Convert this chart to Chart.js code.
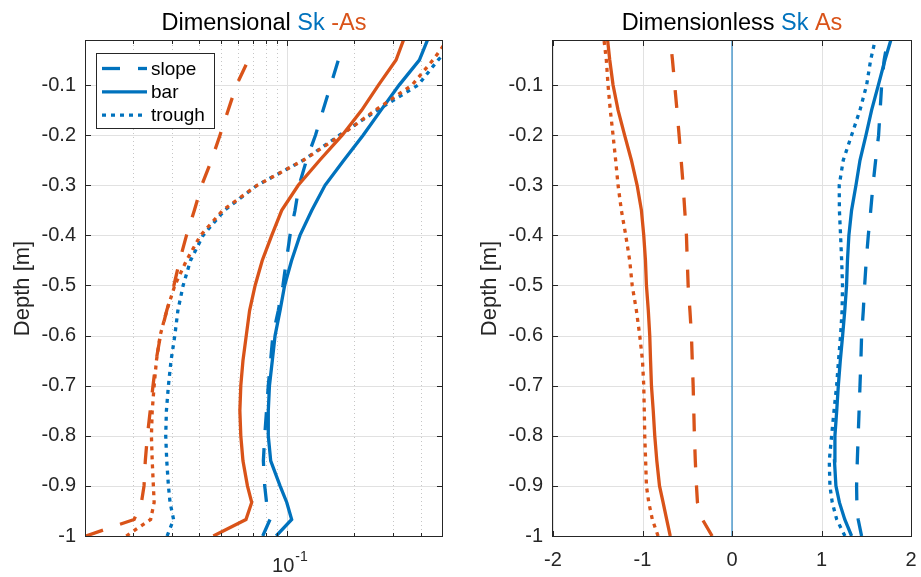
<!DOCTYPE html>
<html>
<head>
<meta charset="utf-8">
<title>Dimensional / Dimensionless Sk and As profiles</title>
<script src="https://cdn.jsdelivr.net/npm/chart.js@4.4.0/dist/chart.umd.min.js"></script>
<style>
  html, body { margin: 0; padding: 0; background: #fff; }
  #wrap { position: relative; width: 921px; height: 577px; }
  .panel { position: absolute; top: 0; }
  #left { left: 0; }
  #right { left: 460px; }
</style>
</head>
<body>
<div id="wrap">
  <div class="panel" id="left"><canvas id="chart-dim" width="460" height="577"></canvas></div>
  <div class="panel" id="right"><canvas id="chart-nondim" width="461" height="577"></canvas></div>
</div>
<script>
// depth levels (m), bottom to top
const depth = [-1, -0.967, -0.933, -0.9, -0.85, -0.8, -0.75, -0.7, -0.65, -0.6, -0.55, -0.5,
  -0.45, -0.4, -0.35, -0.3, -0.25, -0.2, -0.15, -0.1, -0.05, -0.01];
const depthSlope = [-1, -0.967, -0.933, -0.9, -0.85, -0.8, -0.75, -0.7, -0.65, -0.6, -0.55, -0.5,
  -0.45, -0.4, -0.35, -0.3, -0.25, -0.2, -0.15, -0.1, -0.05, -0.03];

// left panel: dimensional Sk and -As (log x)
const skSlopeDim  = [0.0774, 0.0835, 0.0805, 0.079, 0.0779, 0.079, 0.0805, 0.082, 0.084, 0.086, 0.091, 0.0955,
  0.099, 0.1028, 0.1083, 0.113, 0.122, 0.134, 0.145, 0.157, 0.17, 0.176];
const skBarDim    = [0.089, 0.1046, 0.0994, 0.0927, 0.0841, 0.082, 0.082, 0.083, 0.0855, 0.088, 0.0927, 0.0972,
  0.1045, 0.114, 0.129, 0.148, 0.18, 0.22, 0.265, 0.32, 0.395, 0.43];
const skTroughDim = [0.0286, 0.0306, 0.0295, 0.029, 0.0285, 0.0282, 0.0284, 0.029, 0.0298, 0.031, 0.032, 0.0338,
  0.0365, 0.0416, 0.052, 0.073, 0.118, 0.172, 0.255, 0.39, 0.48, 0.58];
const asSlopeDim  = [0.0123, 0.0203, 0.0219, 0.0225, 0.0228, 0.0233, 0.024, 0.0247, 0.0255, 0.0267, 0.0285, 0.0307,
  0.0326, 0.035, 0.038, 0.041, 0.0454, 0.0496, 0.054, 0.0589, 0.0666, 0.069];
const asBarDim    = [0.0463, 0.065, 0.069, 0.066, 0.063, 0.0616, 0.061, 0.0616, 0.063, 0.0652, 0.0675, 0.0715,
  0.077, 0.085, 0.0943, 0.112, 0.14, 0.177, 0.217, 0.258, 0.31, 0.335];
const asTroughDim = [0.0187, 0.0241, 0.025, 0.0248, 0.0245, 0.0243, 0.0245, 0.025, 0.0256, 0.0266, 0.0285, 0.031,
  0.035, 0.0405, 0.051, 0.073, 0.118, 0.175, 0.25, 0.366, 0.455, 0.53];

// right panel: dimensionless Sk and As
const skSlope  = [1.448, 1.41, 1.395, 1.392, 1.40, 1.41, 1.42, 1.43, 1.44, 1.448, 1.467, 1.482,
  1.50, 1.523, 1.55, 1.575, 1.605, 1.638, 1.655, 1.672, 1.70, 1.72];
const skBar    = [1.336, 1.26, 1.20, 1.161, 1.145, 1.15, 1.17, 1.188, 1.21, 1.236, 1.26, 1.28,
  1.29, 1.306, 1.336, 1.385, 1.43, 1.497, 1.56, 1.635, 1.709, 1.775];
const skTrough = [1.262, 1.17, 1.12, 1.094, 1.087, 1.113, 1.14, 1.169, 1.19, 1.213, 1.23, 1.235,
  1.225, 1.213, 1.2, 1.198, 1.243, 1.336, 1.43, 1.504, 1.549, 1.6];
const asSlope  = [-0.222, -0.33, -0.386, -0.397, -0.41, -0.42, -0.427, -0.434, -0.444, -0.453, -0.47, -0.49,
  -0.50, -0.509, -0.528, -0.546, -0.568, -0.591, -0.615, -0.64, -0.665, -0.677];
const asBar    = [-0.69, -0.73, -0.77, -0.81, -0.84, -0.863, -0.88, -0.9, -0.91, -0.919, -0.935, -0.956,
  -0.967, -0.986, -1.012, -1.06, -1.124, -1.2, -1.273, -1.329, -1.366, -1.39];
const asTrough = [-0.826, -0.89, -0.93, -0.956, -0.965, -0.975, -0.98, -0.986, -1.0, -1.031, -1.068, -1.115,
  -1.143, -1.187, -1.236, -1.273, -1.30, -1.329, -1.36, -1.385, -1.404, -1.43];
const zeroLineX = [0, 0];
const zeroLineY = [-1, 0];

// axes
const yTicks = [-1, -0.9, -0.8, -0.7, -0.6, -0.5, -0.4, -0.3, -0.2, -0.1];
const xMajorDim = [0.1];
const xMinorDim = [0.02, 0.03, 0.04, 0.05, 0.06, 0.07, 0.08, 0.09, 0.2, 0.3, 0.4, 0.5];
const xTicksNondim = [-2, -1, 0, 1, 2];
const Y_MIN = -1, Y_MAX = -0.012;

const FONT = "'Liberation Sans', Arial, Helvetica, sans-serif";
const BLUE = '#0072BD', ORANGE = '#D95319', AXIS = '#262626';
const DASH = [18, 18], DOT = [4, 5];

function series(xs, ys, color, dash, label, order, inLegend) {
  return {
    label: label,
    data: xs.map((v, i) => ({ x: v, y: ys[i] })),
    showLine: true,
    borderColor: color,
    backgroundColor: color,
    borderWidth: 3.3,
    borderDash: dash,
    borderCapStyle: 'butt',
    pointRadius: 0,
    tension: 0,
    clip: 0,
    order: order,
    inLegend: inLegend
  };
}

function vline(ctx, px, y0, y1) {
  const x = Math.round(px) + 0.5;
  ctx.beginPath(); ctx.moveTo(x, y0); ctx.lineTo(x, y1); ctx.stroke();
}
function hline(ctx, py, x0, x1) {
  const y = Math.round(py) + 0.5;
  ctx.beginPath(); ctx.moveTo(x0, y); ctx.lineTo(x1, y); ctx.stroke();
}

// MATLAB-look axes: grid, boxed frame with inward ticks, coloured title, legend
function matlabAxes(cfg) {
  return {
    id: 'matlabAxes',
    beforeDatasetsDraw(chart) {
      const { ctx, chartArea: a, scales: { x, y } } = chart;
      ctx.save();
      ctx.lineWidth = 1;
      ctx.strokeStyle = '#c6c6c6';
      ctx.setLineDash([1, 3]);
      cfg.xMinor.forEach(v => vline(ctx, x.getPixelForValue(v), a.top, a.bottom));
      ctx.setLineDash([]);
      ctx.strokeStyle = '#e1e1e1';
      cfg.xMajor.forEach(v => vline(ctx, x.getPixelForValue(v), a.top, a.bottom));
      yTicks.forEach(v => hline(ctx, y.getPixelForValue(v), a.left, a.right));
      ctx.restore();
    },
    afterDatasetsDraw(chart) {
      const { ctx, chartArea: a, scales: { x, y } } = chart;
      ctx.save();
      ctx.strokeStyle = AXIS;
      ctx.lineWidth = 1;
      yTicks.forEach(v => {
        hline(ctx, y.getPixelForValue(v), a.left, a.left + 5);
        hline(ctx, y.getPixelForValue(v), a.right - 5, a.right);
      });
      cfg.xMajor.forEach(v => {
        vline(ctx, x.getPixelForValue(v), a.bottom - 5, a.bottom);
        vline(ctx, x.getPixelForValue(v), a.top, a.top + 5);
      });
      cfg.xMinor.forEach(v => {
        vline(ctx, x.getPixelForValue(v), a.bottom - 3, a.bottom);
        vline(ctx, x.getPixelForValue(v), a.top, a.top + 3);
      });
      ctx.strokeRect(a.left - 0.5, a.top - 0.5, a.right - a.left + 1, a.bottom - a.top + 1);

      // exponent tick labels (log axis)
      ctx.fillStyle = AXIS;
      ctx.textBaseline = 'alphabetic';
      (cfg.supLabels || []).forEach(t => {
        ctx.font = '20px ' + FONT;
        const wb = ctx.measureText(t.base).width;
        ctx.font = '14px ' + FONT;
        const we = ctx.measureText(t.exp).width;
        const x0 = x.getPixelForValue(t.value) - (wb + we) / 2 + 2;
        ctx.font = '20px ' + FONT;
        ctx.textAlign = 'left';
        ctx.fillText(t.base, x0, a.bottom + 36);
        ctx.font = '14px ' + FONT;
        ctx.fillText(t.exp, x0 + wb + 1, a.bottom + 25);
      });

      // title in coloured pieces
      ctx.font = '23.5px ' + FONT;
      const total = cfg.title.reduce((s, p) => s + ctx.measureText(p[0]).width, 0);
      let tx = (a.left + a.right) / 2 - total / 2;
      ctx.textAlign = 'left';
      cfg.title.forEach(p => {
        ctx.fillStyle = p[1];
        ctx.fillText(p[0], tx, 29.5);
        tx += ctx.measureText(p[0]).width;
      });

      // legend
      const L = cfg.legend;
      const items = chart.data.datasets.filter(d => d.inLegend);
      ctx.fillStyle = '#fff';
      ctx.fillRect(L.x, L.y, L.w, L.h);
      ctx.strokeStyle = AXIS;
      ctx.lineWidth = 1;
      ctx.setLineDash([]);
      ctx.strokeRect(L.x + 0.5, L.y + 0.5, L.w, L.h);
      ctx.font = '19px ' + FONT;
      ctx.textBaseline = 'middle';
      items.forEach((d, i) => {
        const ry = L.y + 15.5 + i * 23.3;
        ctx.save();
        ctx.strokeStyle = d.borderColor;
        ctx.lineWidth = d.borderWidth;
        ctx.lineCap = 'butt';
        ctx.setLineDash(d.borderDash);
        ctx.beginPath();
        ctx.moveTo(L.x + 6, ry);
        ctx.lineTo(L.x + 51, ry);
        ctx.stroke();
        ctx.restore();
        ctx.fillStyle = '#000';
        ctx.fillText(d.label, L.x + 55, ry + 1);
      });
      ctx.restore();
    }
  };
}

function yAxis(widthPx) {
  return {
    type: 'linear', min: Y_MIN, max: Y_MAX,
    afterBuildTicks: s => { s.ticks = yTicks.map(v => ({ value: v })); },
    afterFit: s => { s.width = widthPx; s.paddingTop = 0; s.paddingBottom = 0; },
    grid: { display: false, drawTicks: false }, border: { display: false },
    ticks: { font: { family: FONT, size: 20 }, color: AXIS, padding: 10, callback: v => String(v) },
    title: { display: true, text: 'Depth [m]', color: AXIS, font: { family: FONT, size: 22 }, padding: { top: 4, bottom: 0 } }
  };
}

// keep the plot box where the frame is, even if edge labels overhang it
function xFit(s) {
  s.height = 41;
  s.paddingLeft = 0;
  s.paddingRight = 0;
}

const common = {
  responsive: false,
  animation: false,
  events: [],
  plugins: { legend: { display: false }, tooltip: { enabled: false } }
};

new Chart(document.getElementById('chart-dim'), {
  type: 'scatter',
  data: {
    datasets: [
      series(skSlopeDim, depthSlope, BLUE, DASH, 'slope', 2, true),
      series(skBarDim, depth, BLUE, [], 'bar', 2, true),
      series(skTroughDim, depth, BLUE, DOT, 'trough', 2, true),
      series(asSlopeDim, depthSlope, ORANGE, DASH, 'slope', 1, false),
      series(asBarDim, depth, ORANGE, [], 'bar', 1, false),
      series(asTroughDim, depth, ORANGE, DOT, 'trough', 1, false)
    ]
  },
  options: Object.assign({}, common, {
    layout: { padding: { left: 6, right: 18, top: 41, bottom: 0 } },
    scales: {
      x: {
        type: 'logarithmic', min: 0.0123, max: 0.5,
        afterFit: xFit,
        grid: { display: false, drawTicks: false }, border: { display: false },
        ticks: { display: false }
      },
      y: yAxis(80)
    }
  }),
  plugins: [matlabAxes({
    xMajor: xMajorDim, xMinor: xMinorDim,
    supLabels: [{ value: 0.1, base: '10', exp: '-1' }],
    title: [['Dimensional ', '#000'], ['Sk', BLUE], [' -As', ORANGE]],
    legend: { x: 96, y: 53, w: 118, h: 75 }
  })]
});

new Chart(document.getElementById('chart-nondim'), {
  type: 'scatter',
  data: {
    datasets: [
      series(skSlope, depthSlope, BLUE, DASH, 'slope', 2, true),
      series(skBar, depth, BLUE, [], 'bar', 2, true),
      series(skTrough, depth, BLUE, DOT, 'trough', 2, true),
      series(asSlope, depthSlope, ORANGE, DASH, 'slope', 1, false),
      series(asBar, depth, ORANGE, [], 'bar', 1, false),
      series(asTrough, depth, ORANGE, DOT, 'trough', 1, false),
      Object.assign(series(zeroLineX, zeroLineY, BLUE, [], '', 3, false), { borderWidth: 1 })
    ]
  },
  options: Object.assign({}, common, {
    layout: { padding: { left: 13, right: 10, top: 41, bottom: 0 } },
    scales: {
      x: {
        type: 'linear', min: -2, max: 2,
        afterBuildTicks: s => { s.ticks = xTicksNondim.map(v => ({ value: v })); },
        afterFit: xFit,
        grid: { display: false, drawTicks: false }, border: { display: false },
        ticks: { font: { family: FONT, size: 20 }, color: AXIS, padding: 12, maxRotation: 0, callback: v => String(v) }
      },
      y: yAxis(80)
    }
  }),
  plugins: [matlabAxes({
    xMajor: xTicksNondim, xMinor: [],
    title: [['Dimensionless ', '#000'], ['Sk', BLUE], [' As', ORANGE]],
    legend: { x: 700, y: 50, w: 118, h: 76 }
  })]
});
</script>
</body>
</html>
